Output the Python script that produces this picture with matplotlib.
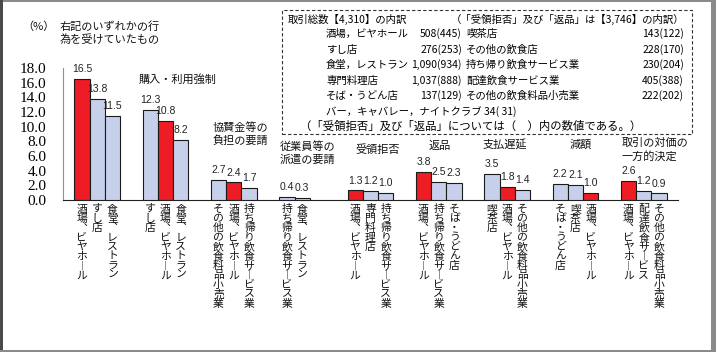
import matplotlib
matplotlib.use("Agg")
import matplotlib.pyplot as plt
from matplotlib.patches import Rectangle

plt.rcParams['font.family'] = ['Noto Sans CJK JP', 'DejaVu Sans']

# ---------------- data ----------------
group_titles = ["右記のいずれかの行\n為を受けていたもの", "購入・利用強制", "協賛金等の\n負担の要請",
                "従業員等の\n派遣の要請", "受領拒否", "返品", "支払遅延", "減額", "取引の対価の\n一方的決定"]
bar_labels = [
    ["酒場、ビヤホール", "すし店", "食堂、レストラン"],
    ["すし店", "酒場、ビヤホール", "食堂、レストラン"],
    ["その他の飲食料品小売業", "酒場、ビヤホール", "持ち帰り飲食サービス業"],
    ["持ち帰り飲食サービス業", "食堂、レストラン"],
    ["酒場、ビヤホール", "専門料理店", "持ち帰り飲食サービス業"],
    ["酒場、ビヤホール", "持ち帰り飲食サービス業", "そば・うどん店"],
    ["喫茶店", "酒場、ビヤホール", "その他の飲食料品小売業"],
    ["そば・うどん店", "喫茶店", "酒場、ビヤホール"],
    ["酒場、ビヤホール", "配達飲食サービス", "その他の飲食料品小売業"],
]
values = [
    [16.5, 13.8, 11.5],
    [12.3, 10.8, 8.2],
    [2.7, 2.4, 1.7],
    [0.4, 0.3],
    [1.3, 1.2, 1.0],
    [3.8, 2.5, 2.3],
    [3.5, 1.8, 1.4],
    [2.2, 2.1, 1.0],
    [2.6, 1.2, 0.9],
]
highlight = "酒場、ビヤホール"
y_ticks = [0, 2, 4, 6, 8, 10, 12, 14, 16, 18]

box_title_a = "取引総数【4,310】の内訳"
box_title_b = "（「受領拒否」及び「返品」は【3,746】の内訳）"
left_names = ["酒場，ビヤホール", "すし店", "食堂，レストラン", "専門料理店", "そば・うどん店"]
left_counts = ["508(445)", "276(253)", "1,090(934)", "1,037(888)", "137(129)"]
right_names = ["喫茶店", "その他の飲食店", "持ち帰り飲食サービス業", "配達飲食サービス業", "その他の飲食料品小売業"]
right_counts = ["143(122)", "228(170)", "230(204)", "405(388)", "222(202)"]
extra_name = "バー，キャバレー，ナイトクラブ"
extra_count = "34( 31)"
box_note = "（「受領拒否」及び「返品」については（　）内の数値である。）"

# ---------------- figure ----------------
W, H = 716, 352
fig = plt.figure(figsize=(W / 100, H / 100), dpi=100)
fig.patch.set_facecolor("white")

def fx(x):
    return x / W

def fy(y):
    return 1 - y / H

ax = fig.add_axes([fx(63), fy(200), (678 - 63) / W, (200 - 68) / H])
ax.set_xlim(-0.5, len(values) - 0.5)
ax.set_ylim(0, 18)
for s in ["top", "right"]:
    ax.spines[s].set_visible(False)
ax.spines["left"].set_color("#909090")
ax.spines["left"].set_linewidth(0.8)
ax.spines["bottom"].set_color("#202020")
ax.spines["bottom"].set_linewidth(0.8)
ax.set_xticks([])
ax.set_yticks(y_ticks)
ax.set_yticklabels([f"{t:.1f}" for t in y_ticks], family="Liberation Serif", fontsize=11)
ax.tick_params(axis="y", length=0, pad=12)

red = "#EE1C24"
blue = "#C6D0EA"
w = 0.224

def vert(s):
    s = s.replace("、", "︑").replace("ー", "︱")
    return "\n".join(s)

for i, (vals, labs) in enumerate(zip(values, bar_labels)):
    for j, (v, lab) in enumerate(zip(vals, labs)):
        x = i + (j - 1) * w
        c = red if lab == highlight else blue
        ax.bar(x, v, width=w, color=c, edgecolor="#1a1a1a", linewidth=0.8, zorder=3)
        ax.annotate(f"{v:.1f}", xy=(x, v), xytext=(0, 3.5), textcoords="offset points",
                    ha="center", va="bottom", fontsize=7.5, family="Liberation Sans",
                    color="#222222")
        ax.annotate(vert(lab), xy=(x, 0), xytext=(0, -3), textcoords="offset points",
                    ha="center", va="top", fontsize=7.8, linespacing=0.93,
                    color="#111111", annotation_clip=False)

# group titles (pixel positions of the text's left/top)
title_pos = [(60, 21), (139, 74), (212, 122), (280, 141), (355, 144),
             (429, 140), (483, 140), (570, 140), (622, 138)]
for t, (px, py) in zip(group_titles, title_pos):
    fig.text(fx(px), fy(py), t, ha="left", va="top", fontsize=8, linespacing=1.3,
             color="#111111")

fig.text(fx(22), fy(21), "（%）", ha="left", va="top", fontsize=8, color="#111111")

# info box
fig.add_artist(Rectangle((fx(282), fy(134)), (692 - 282) / W, (134 - 10) / H,
                         transform=fig.transFigure, fill=False, edgecolor="#333333",
                         linestyle=(0, (3, 2)), linewidth=0.8))
fs = 7.5
fig.text(fx(288), fy(19), box_title_a, ha="left", va="center", fontsize=fs)
fig.text(fx(684), fy(19), box_title_b, ha="right", va="center", fontsize=fs)
rows_y = [34, 49.5, 65, 80.5, 96]
for yy, ln, lc, rn, rc in zip(rows_y, left_names, left_counts, right_names, right_counts):
    fig.text(fx(326), fy(yy), ln, ha="left", va="center", fontsize=fs)
    fig.text(fx(462), fy(yy), lc, ha="right", va="center", fontsize=fs)
    fig.text(fx(466), fy(yy), rn, ha="left", va="center", fontsize=fs)
    fig.text(fx(684), fy(yy), rc, ha="right", va="center", fontsize=fs)
fig.text(fx(326), fy(111.5), extra_name + " " + extra_count, ha="left", va="center", fontsize=fs)
fig.text(fx(300), fy(126.5), box_note, ha="left", va="center", fontsize=8.2)

# outer frame
for (x0, y0, x1, y1, c) in [(0, 0, 716, 2, "#8a8a8a"), (0, 0, 3, 352, "#4a4a4a"),
                             (711, 0, 716, 352, "#8a8a8a"), (0, 350, 716, 352, "#8a8a8a")]:
    fig.add_artist(Rectangle((fx(x0), fy(y1)), (x1 - x0) / W, (y1 - y0) / H,
                             transform=fig.transFigure, color=c, lw=0))

fig.savefig("out.png", dpi=100)
